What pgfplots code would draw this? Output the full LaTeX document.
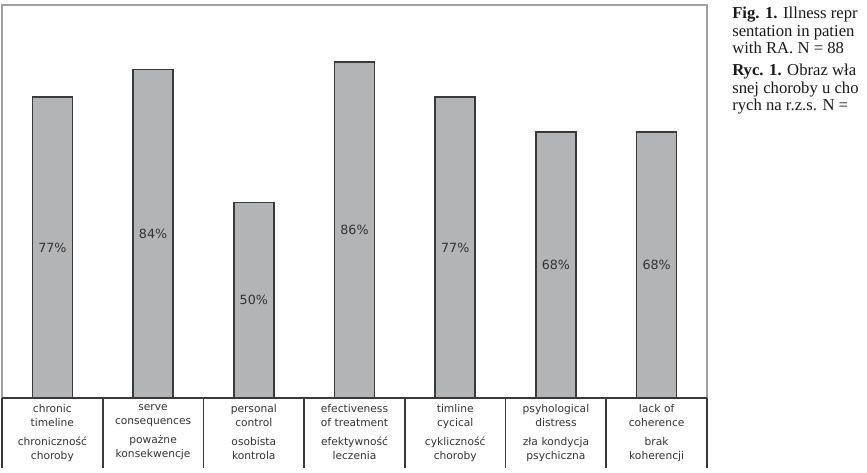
\documentclass[border=0pt]{standalone}
\usepackage{pgfplots}
\usepackage{pgfplotstable}
\pgfplotsset{compat=1.18}
\usepackage{fontspec}
\setmainfont{Liberation Serif}
\newfontfamily\verd{DejaVu Sans}
\definecolor{barfill}{HTML}{B3B4B6}
\definecolor{bardraw}{HTML}{3A3A3A}
\definecolor{txt}{HTML}{333333}
\definecolor{boxc}{HTML}{A0A0A0}
\pgfplotstableread{
x v
0 77
1 84
2 50
3 86
4 77
5 68
6 68
}\data
\begin{document}
\begin{tikzpicture}
\useasboundingbox (0pt,0pt) rectangle (650.25pt,354pt);
\clip (0pt,0pt) rectangle (650.25pt,354pt);
\begin{axis}[
  at={(1.5pt,55.5pt)}, anchor=south west,
  scale only axis, width=528.75pt, height=294.75pt,
  xmin=-0.5, xmax=6.5, ymin=0, ymax=100.5,
  axis line style={draw=boxc, line width=1.5pt},
  ytick=\empty, xtick={0,...,6}, major tick length=0pt,
  clip=false,
  /pgf/number format/assume math mode=true,
  xticklabels={
    {chronic\\timeline\\[4pt]chroniczność\\choroby},
    {serve\\consequences\\[4pt]poważne\\konsekwencje},
    {personal\\control\\[4pt]osobista\\kontrola},
    {efectiveness\\of treatment\\[4pt]efektywność\\leczenia},
    {timline\\cycical\\[4pt]cykliczność\\choroby},
    {psyhological\\distress\\[4pt]zła kondycja\\psychiczna},
    {lack of\\coherence\\[4pt]brak\\koherencji}},
  xticklabel style={font=\verd\fontsize{8}{10.5}\selectfont, align=center, text=txt, text width=72pt, yshift=-1pt},
]
\addplot[ybar, bar width=30pt, fill=barfill, draw=bardraw, line width=1.2pt] table[x=x,y=v]{\data};
\addplot[draw=none, mark=none, nodes near coords={\pgfmathprintnumber{\pgfplotspointmeta}\%},
  nodes near coords align=center, point meta=explicit,
  every node near coord/.append style={font=\verd\fontsize{9.5}{11}\selectfont, text=txt}]
  table[x=x, y expr=\thisrow{v}/2, meta=v]{\data};
\end{axis}
\draw[line width=2pt, bardraw] (1.5pt,55.5pt) -- (530.25pt,55.5pt);
\foreach \k in {0,...,7} \draw[line width=1.3pt, bardraw] ({1.5pt+75.5355pt*\k},55.5pt) -- ++(0pt,-52.5pt);
\node[anchor=north west, align=left, inner sep=0pt, font=\fontsize{12.5}{13.1}\selectfont, text=black!90] at (549pt,348.75pt)
 {\textbf{Fig. 1.} Illness repr\\sentation in patien\\with RA. N = 88\\[3.5pt]
  \textbf{Ryc. 1.} Obraz wła\\snej choroby u cho\\rych na r.z.s. N =};
\end{tikzpicture}
\end{document}
